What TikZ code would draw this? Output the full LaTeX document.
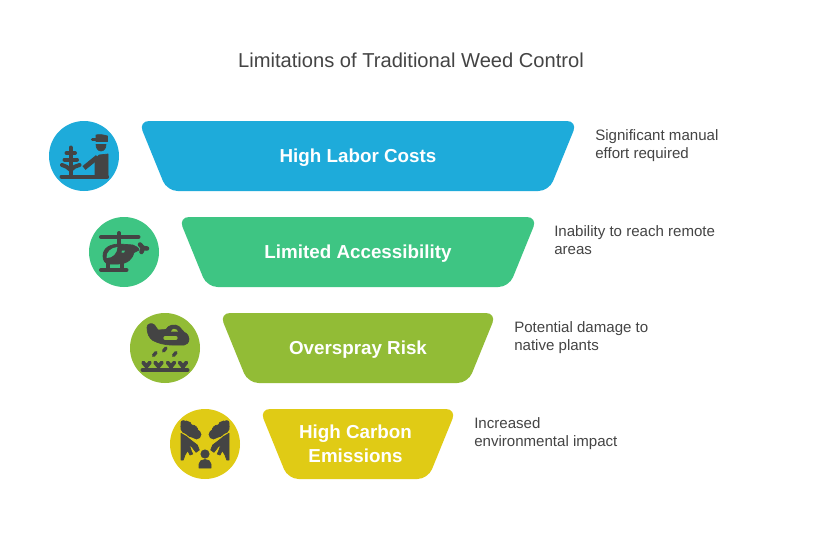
\documentclass[tikz,border=0pt]{standalone}
\usepackage{fontspec}
\setmainfont{Liberation Sans}
\definecolor{cblue}{HTML}{1EABDA}
\definecolor{cgreen}{HTML}{3EC583}
\definecolor{colive}{HTML}{92BC36}
\definecolor{cyellow}{HTML}{E0CB15}
\definecolor{ink}{HTML}{444444}
\tikzset{
  x=0.75pt,y=-0.75pt,
  band/.style={rounded corners=8pt},
  badge/.style={circle,minimum size=52.5pt,inner sep=0pt,draw=none},
  bandtext/.style={text=white,font=\fontsize{14.1}{18}\selectfont\bfseries,align=center,inner sep=0pt,text height=11pt,text depth=3pt},
  note/.style={text=ink,font=\fontsize{11.3}{13.5}\selectfont,align=left,anchor=west,inner sep=0pt,text height=8pt,text depth=3pt},
  titletext/.style={text=ink,font=\fontsize{15.1}{18}\selectfont,inner sep=0pt},
  stroke/.style={draw=ink,line width=3pt,line cap=round,line join=round},
  thin stroke/.style={draw=ink,line width=2.5pt,line cap=round,line join=round},
  solid ink/.style={fill=ink,draw=ink,line width=0.5pt,line join=round},
}
\begin{document}
\begin{tikzpicture}
\useasboundingbox (0,0) rectangle (821,553);
\fill[white] (0,0) rectangle (821,553);
\node[titletext] (title) at (411,60) {Limitations of Traditional Weed Control};

% funnel bands
\fill[cblue,band] (138.5,121) -- (577.5,121) -- (549,191) -- (167,191) -- cycle;
\fill[cgreen,band] (178.5,217) -- (537.5,217) -- (509,287) -- (207,287) -- cycle;
\fill[colive,band] (219.5,313) -- (496.5,313) -- (468,383) -- (248,383) -- cycle;
\fill[cyellow,band] (259.5,409) -- (456.5,409) -- (428,479) -- (288,479) -- cycle;
\node[bandtext] (t1) at (358,156.7) {High Labor Costs};
\node[bandtext] (t2) at (358,252.7) {Limited Accessibility};
\node[bandtext] (t3) at (358,348.7) {Overspray Risk};
\node[bandtext] (t4) at (355.5,456.7) {High Carbon\\Emissions};

% notes
\node[note] (n1) at (595,154.7) {Significant manual\\effort required};
\node[note] (n2) at (554,250.7) {Inability to reach remote\\areas};
\node[note] (n3) at (514,346.7) {Potential damage to\\native plants};
\node[note] (n4) at (474,442.7) {Increased\\environmental impact};

% badges
\node[badge,fill=cblue] (c1) at (84,156) {};
\node[badge,fill=cgreen] (c2) at (124,252) {};
\node[badge,fill=colive] (c3) at (165,348) {};
\node[badge,fill=cyellow] (c4) at (205,444) {};

% icon 1: worker and tree
\draw[stroke] (61.5,176.5) -- (107,176.5);
\draw[stroke] (70.7,147.5) -- (70.7,176);
\draw[stroke] (66.5,153) -- (75,153);
\draw[stroke] (64.5,159.5) -- (77,159.5);
\draw[stroke] (62,165) .. controls (65,165.5) and (68,167.5) .. (70.7,170) .. controls (73,167.5) and (76,165.5) .. (79.5,165);
\fill[solid ink] (95,159) -- (99,155) -- (108,154) -- (108,178) -- (95,178) -- cycle;
\draw[ink,line width=3.6pt,line join=round] (97.5,157) -- (84,168);
\fill[solid ink] (96,144.5) -- (106,144.5) .. controls (106,148) and (104,151) .. (101,151) .. controls (98,151) and (96,148) .. (96,144.5) -- cycle;
\fill[solid ink] (96,135) .. controls (100,134) and (104,135) .. (107.5,136) -- (107.5,141.5) -- (96,141.5) -- cycle;
\draw[ink,line width=2.4pt,line cap=round] (92.5,139.5) -- (97,139.5);

% icon 2: helicopter
\draw[stroke] (101,237) -- (138.5,237);
\draw[stroke] (119,233) -- (119,246);
\fill[solid ink] (103,256) .. controls (103,248) and (110,244) .. (120,244) -- (133,245) .. controls (136,246) and (139,248) .. (139,250) -- (134,252.5) .. controls (133,258) and (128,264) .. (118,264) -- (109,264) .. controls (105,264) and (103,260) .. (103,256) -- cycle;
\fill[cgreen] (106.5,258) .. controls (106,252) and (111,247.5) .. (117.5,247) .. controls (117.5,253) and (112.5,258.5) .. (106.5,258) -- cycle;
\fill[cgreen] (122,250.5) -- (125,250.5) -- (124,252.5) -- (121.5,252.5) -- cycle;
\draw[stroke] (101,270) -- (126.5,270);
\draw[ink,line width=2.6pt] (108,262) -- (108,270);
\draw[ink,line width=2.6pt] (122,262) -- (122,270);
\draw[ink,line width=3.4pt,line cap=round] (143,248) -- (140,244.5);
\draw[ink,line width=3.4pt,line cap=round] (143,248) -- (147,248.5);
\draw[ink,line width=3.4pt,line cap=round] (143,248) -- (141.5,252);

% icon 3: crop duster
\fill[solid ink] (147,327.5) .. controls (147,323.5) and (152,322.5) .. (154.5,325) -- (158,330) -- (166,329.5) .. controls (168,325) and (175,323.5) .. (179,326.5) -- (184,332) .. controls (188,334) and (189,337) .. (189,339) .. controls (189,343) and (186,345) .. (184,345) -- (172,345) .. controls (164,345) and (158,343) .. (153,340.5) .. controls (149,338) and (147,333) .. (147,327.5) -- cycle;
\draw[colive,line width=2.4pt,line cap=round] (165,338) -- (176,338);
\fill[colive] (171,331.5) .. controls (172,328.5) and (175,328) .. (176.5,329.5) -- (178,331.5) -- cycle;
\draw[thin stroke] (153.5,355.5) -- (156,352.5);
\draw[thin stroke] (163.5,351) -- (166,348);
\draw[thin stroke] (173.5,355.5) -- (176,352.5);
\draw[stroke] (142.5,370) -- (187.5,370);
\foreach \px in {146.5,158.5,171,183}{
  \draw[ink,line width=2.9pt,line cap=round,line join=round] (\px-3.4,362.5) -- (\px,366.5) -- (\px+3.4,362.5);
  \draw[ink,line width=2.9pt] (\px,365) -- (\px,370);
}

% icon 4: emissions
\foreach \sx in {1,-1}{
\begin{scope}[shift={(205,444)},xscale=\sx]
  \fill[solid ink,rounded corners=1.5pt] (-24,-23.3) -- (-19.3,-23.3) -- (-15,-20) -- (-10,-16.7) -- (-5,-11.7) -- (-4,-8.3) -- (-8.3,-5.7) -- (-13.3,-6.7) -- (-18.3,-10) -- (-24,-12.7) -- cycle;
  \fill[solid ink] (-18.5,-17.5) circle[radius=5.5];
  \fill[solid ink] (-13,-13) circle[radius=6];
  \fill[solid ink] (-8.5,-9.5) circle[radius=4.5];
  \fill[solid ink] (-24,-10.7) -- (-18.3,-7.3) -- (-14.3,-4) -- (-7.7,1) -- (-5.7,6) -- (-9,8.3) -- (-13.3,2.7) -- (-15.7,1) -- (-14,6) -- (-12.3,10) -- (-15,11) -- (-17.3,6.7) -- (-20,11) -- (-21.7,16) -- (-24,16) -- cycle;
\end{scope}}
\fill[solid ink] (205,454) circle[radius=4.2];
\fill[solid ink] (199,468) -- (199,464) .. controls (199,461) and (202,459.5) .. (205,459.5) .. controls (208,459.5) and (211,461) .. (211,464) -- (211,468) -- cycle;
\end{tikzpicture}
\end{document}
